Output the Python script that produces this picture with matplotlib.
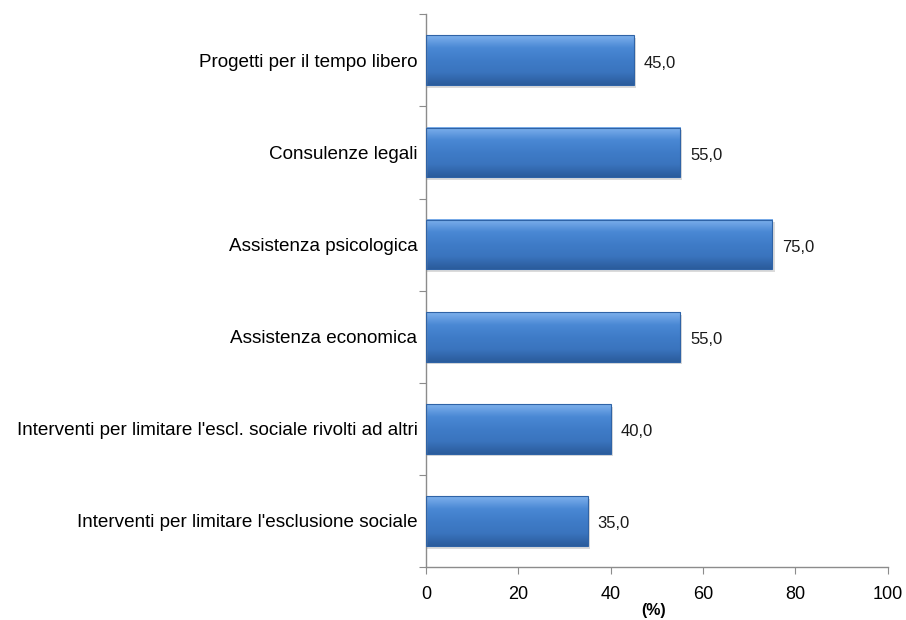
import matplotlib.pyplot as plt
import numpy as np
from matplotlib.colors import LinearSegmentedColormap
from matplotlib.patches import Rectangle

categories = [
    "Interventi per limitare l'esclusione sociale",
    "Interventi per limitare l'escl. sociale rivolti ad altri",
    "Assistenza economica",
    "Assistenza psicologica",
    "Consulenze legali",
    "Progetti per il tempo libero",
]
values = [35.0, 40.0, 55.0, 75.0, 55.0, 45.0]
x_ticks = [0, 20, 40, 60, 80, 100]

plt.rcParams.update({
    "font.family": ["Liberation Sans", "DejaVu Sans"],
    "font.size": 13,
})

fig = plt.figure(figsize=(9.06, 6.2), dpi=100)
ax = fig.add_axes([0.470, 0.0855, 0.510, 0.8915])

bar_h = 0.54
ypos = np.arange(len(categories))
ax.set_xlim(0, 100)
ax.set_ylim(-0.5, len(categories) - 0.5)

# vertical shading for the bevelled bars
cmap = LinearSegmentedColormap.from_list(
    "bevel", ["#2B5C9C", "#3A74BE", "#3F7CC8", "#4A88D4", "#7DB0EC"])
grad = np.linspace(0, 1, 64).reshape(-1, 1)

for y, v in zip(ypos, values):
    # soft drop shadow
    ax.add_patch(Rectangle((0, y - bar_h / 2 - 0.03), v + 0.5, bar_h,
                           facecolor="#B8B8B8", edgecolor="none",
                           alpha=0.5, zorder=1))
    ax.imshow(grad, cmap=cmap, aspect="auto", origin="lower",
              extent=(0, v, y - bar_h / 2, y + bar_h / 2), zorder=2)
    ax.add_patch(Rectangle((0, y - bar_h / 2), v, bar_h, facecolor="none",
                           edgecolor="#2F63A6", linewidth=0.8, zorder=3))
    ax.text(v + 2.2, y - 0.03, f"{v:.1f}".replace(".", ","), va="center",
            ha="left", fontsize=12, color="#1A1A1A")

ax.set_yticks(np.arange(-0.5, len(categories), 1.0))
ax.set_yticklabels([])
ax.set_yticks(ypos, minor=True)
ax.set_yticklabels(categories, minor=True, fontsize=13.6)
ax.tick_params(axis="y", which="minor", length=0, pad=6)
ax.tick_params(axis="y", which="major", length=5, color="#8C8C8C")

ax.set_xticks(x_ticks)
ax.set_xticklabels([str(t) for t in x_ticks])
ax.tick_params(axis="x", length=5, color="#8C8C8C", pad=9)

for side in ("top", "right"):
    ax.spines[side].set_visible(False)
for side in ("left", "bottom"):
    ax.spines[side].set_color("#8C8C8C")
    ax.spines[side].set_linewidth(1.0)

fig.text(0.721, 0.003, "(%)", ha="center", va="bottom", fontsize=11.5,
         fontweight="bold")

fig.savefig("out.png", dpi=100, facecolor="white")
